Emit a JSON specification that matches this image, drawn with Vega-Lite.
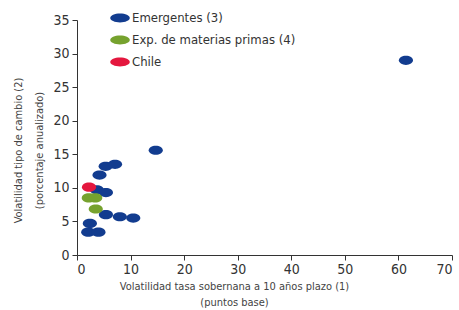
{
  "$schema": "https://vega.github.io/schema/vega-lite/v6.json",
  "width": 375,
  "height": 235,
  "autosize": {"type": "none"},
  "padding": {"left": 77, "top": 20, "right": 7, "bottom": 55},
  "background": "white",
  "config": {
    "view": {"stroke": null},
    "font": "DejaVu Sans Condensed, Roboto, sans-serif",
    "axis": {"grid": false, "domainColor": "#333333", "tickColor": "#333333", "labelColor": "#333333", "titleColor": "#444444", "labelFont": "DejaVu Sans Condensed, Roboto, sans-serif", "titleFont": "DejaVu Sans Condensed, Roboto, sans-serif", "labelFontSize": 14, "titleFontSize": 11, "titleFontWeight": "normal", "tickSize": 5}
  },
  "data": {
    "values": [
      {"x": 61.4, "y": 29.0, "g": "Emergentes (3)"},
      {"x": 14.7, "y": 15.6, "g": "Emergentes (3)"},
      {"x": 5.35, "y": 13.2, "g": "Emergentes (3)"},
      {"x": 7.1, "y": 13.5, "g": "Emergentes (3)"},
      {"x": 4.2, "y": 11.9, "g": "Emergentes (3)"},
      {"x": 3.7, "y": 9.7, "g": "Emergentes (3)"},
      {"x": 5.4, "y": 9.3, "g": "Emergentes (3)"},
      {"x": 5.4, "y": 6.0, "g": "Emergentes (3)"},
      {"x": 8.0, "y": 5.7, "g": "Emergentes (3)"},
      {"x": 10.5, "y": 5.5, "g": "Emergentes (3)"},
      {"x": 2.4, "y": 4.7, "g": "Emergentes (3)"},
      {"x": 2.1, "y": 3.4, "g": "Emergentes (3)"},
      {"x": 4.0, "y": 3.4, "g": "Emergentes (3)"},
      {"x": 2.2, "y": 8.5, "g": "Exp. de materias primas (4)"},
      {"x": 3.4, "y": 8.5, "g": "Exp. de materias primas (4)"},
      {"x": 3.5, "y": 6.85, "g": "Exp. de materias primas (4)"},
      {"x": 2.24, "y": 10.1, "g": "Chile"}
    ]
  },
  "mark": {"type": "point", "filled": true, "opacity": 1, "size": 200, "shape": "M-1,0 A1,0.65 0 1,1 1,0 A1,0.65 0 1,1 -1,0 Z"},
  "encoding": {
    "x": {"field": "x", "type": "quantitative", "scale": {"domain": [0, 70], "nice": false}, "axis": {"values": [0,10,20,30,40,50,60,70], "title": ["Volatilidad tasa sobernana a 10 años plazo (1)", "(puntos base)"], "titlePadding": 4, "titleLineHeight": 16, "titleX": 157}},
    "y": {"field": "y", "type": "quantitative", "scale": {"domain": [0, 35], "nice": false}, "axis": {"values": [0,5,10,15,20,25,30,35], "title": ["Volatilidad tipo de cambio (2)", "(porcentaje anualizado)"], "titlePadding": 8, "titleLineHeight": 21, "labelPadding": 3, "titleY": 130}},
    "color": {"field": "g", "type": "nominal", "sort": ["Emergentes (3)", "Exp. de materias primas (4)", "Chile"],
      "scale": {"domain": ["Emergentes (3)", "Exp. de materias primas (4)", "Chile"], "range": ["#123c8f", "#76a22e", "#e4173e"]},
      "legend": {"title": null, "orient": "none", "legendX": 33, "legendY": -12, "labelFontSize": 13, "labelLimit": 0, "labelColor": "#333333", "labelFont": "DejaVu Sans Condensed, Roboto, sans-serif", "symbolType": "M-1,0 A1,0.45 0 1,1 1,0 A1,0.45 0 1,1 -1,0 Z", "symbolSize": 380, "rowPadding": 5, "labelOffset": 2, "symbolStrokeWidth": 0}
    }
  }
}
